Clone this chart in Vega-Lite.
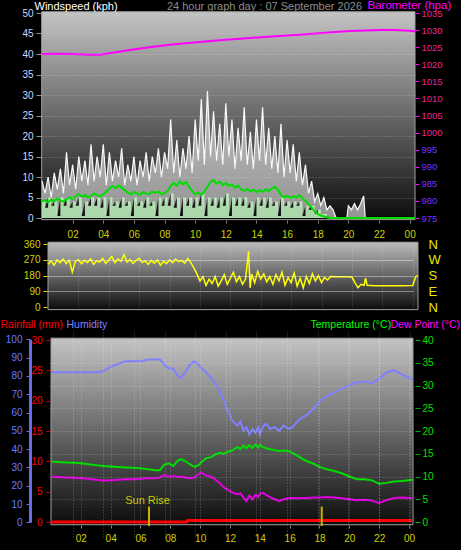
{
 "$schema": "https://vega.github.io/schema/vega-lite/v6.json",
 "width": 461, "height": 550, "autosize": "none", "padding": 0, "background": "#000000",
 "config": {"font": "Liberation Sans", "view": {"stroke": null},
  "axis": {"labelFont": "Liberation Sans", "titleFont": "Liberation Sans", "titleFontWeight": "normal", "labelFontSize": 10, "titleFontSize": 11, "grid": false}},
 "datasets": {
  "frame1": [{"x0": -0.02, "x1": 24.35, "y0": -0.4, "y1": 50.3}],
  "frame2": [{"x0": 0, "x1": 24.35, "y0": -15, "y1": 372}],
  "frame3": [{"x0": 0, "x1": 24.27, "y0": -0.6, "y1": 40.4}],
  "wind": [
   {"t":0.0,"g":9,"a":4,"m":4.0},{"t":0.2,"g":6,"a":2.5,"m":4.4},{"t":0.4,"g":10,"a":5,"m":3.8},{"t":0.6,"g":5,"a":3,"m":4.5},
   {"t":0.8,"g":11,"a":4,"m":4.1},{"t":1.0,"g":7,"a":0.5,"m":4.8},{"t":1.2,"g":12,"a":5,"m":4.3},{"t":1.4,"g":6,"a":3,"m":4.0},
   {"t":1.6,"g":16,"a":5,"m":4.6},{"t":1.8,"g":8,"a":2.5,"m":5.0},{"t":2.0,"g":13,"a":4,"m":4.6},{"t":2.2,"g":7,"a":3,"m":5.3},
   {"t":2.4,"g":15,"a":5,"m":5.8},{"t":2.6,"g":9,"a":0.5,"m":5.2},{"t":2.8,"g":14,"a":4,"m":5.6},{"t":3.0,"g":8,"a":3,"m":5.0},
   {"t":3.2,"g":18,"a":5,"m":5.4},{"t":3.4,"g":9,"a":3,"m":6.0},{"t":3.6,"g":15,"a":5,"m":5.6},{"t":3.8,"g":10,"a":2.5,"m":5.2},
   {"t":4.0,"g":18,"a":5,"m":5.8},{"t":4.2,"g":8,"a":0.5,"m":6.4},{"t":4.4,"g":16,"a":5,"m":7.2},{"t":4.6,"g":9,"a":3,"m":7.8},
   {"t":4.8,"g":14,"a":4,"m":7.3},{"t":5.0,"g":10,"a":2.5,"m":7.9},{"t":5.2,"g":17,"a":5,"m":7.4},{"t":5.4,"g":8,"a":3,"m":6.8},
   {"t":5.6,"g":13,"a":4,"m":6.2},{"t":5.8,"g":9,"a":0.5,"m":5.8},{"t":6.0,"g":15,"a":5,"m":6.4},{"t":6.2,"g":8,"a":3,"m":6.0},
   {"t":6.4,"g":14,"a":4,"m":5.6},{"t":6.6,"g":10,"a":2.5,"m":6.3},{"t":6.8,"g":16,"a":5,"m":6.0},{"t":7.0,"g":9,"a":3,"m":5.8},
   {"t":7.2,"g":15,"a":4,"m":6.5},{"t":7.4,"g":11,"a":0.5,"m":6.1},{"t":7.6,"g":17,"a":5,"m":6.4},{"t":7.8,"g":10,"a":3,"m":5.8},
   {"t":8.0,"g":16,"a":5,"m":6.0},{"t":8.2,"g":12,"a":3,"m":6.6},{"t":8.4,"g":24,"a":6,"m":7.8},{"t":8.6,"g":11,"a":2.5,"m":8.6},
   {"t":8.8,"g":19,"a":5,"m":7.9},{"t":9.0,"g":10,"a":0.5,"m":9.0},{"t":9.2,"g":17,"a":5,"m":8.2},{"t":9.4,"g":12,"a":3,"m":8.8},
   {"t":9.6,"g":20,"a":5,"m":7.6},{"t":9.8,"g":11,"a":2.5,"m":6.6},{"t":10.0,"g":24,"a":5,"m":5.8},{"t":10.2,"g":14,"a":3,"m":6.2},
   {"t":10.4,"g":29,"a":6,"m":5.6},{"t":10.6,"g":13,"a":0.5,"m":6.4},{"t":10.8,"g":31,"a":5,"m":7.6},{"t":11.0,"g":15,"a":3,"m":8.8},
   {"t":11.2,"g":26,"a":5,"m":9.3},{"t":11.4,"g":14,"a":2.5,"m":8.4},{"t":11.6,"g":23,"a":5,"m":8.9},{"t":11.8,"g":13,"a":3,"m":8.0},
   {"t":12.0,"g":28,"a":6,"m":8.6},{"t":12.2,"g":15,"a":0.5,"m":7.8},{"t":12.4,"g":24,"a":5,"m":8.2},{"t":12.6,"g":12,"a":3,"m":7.4},
   {"t":12.8,"g":22,"a":5,"m":7.9},{"t":13.0,"g":14,"a":3,"m":7.0},{"t":13.2,"g":27,"a":5,"m":6.6},{"t":13.4,"g":13,"a":2.5,"m":7.1},
   {"t":13.6,"g":21,"a":4,"m":6.5},{"t":13.8,"g":12,"a":0.5,"m":6.9},{"t":14.0,"g":24,"a":5,"m":6.3},{"t":14.2,"g":14,"a":3,"m":6.8},
   {"t":14.4,"g":27,"a":5,"m":6.4},{"t":14.6,"g":13,"a":2.5,"m":7.0},{"t":14.8,"g":22,"a":5,"m":6.6},{"t":15.0,"g":12,"a":3,"m":7.2},
   {"t":15.2,"g":20,"a":4,"m":7.6},{"t":15.4,"g":11,"a":0.5,"m":6.9},{"t":15.6,"g":23,"a":5,"m":5.6},{"t":15.8,"g":10,"a":3,"m":5.0},
   {"t":16.0,"g":19,"a":4,"m":5.4},{"t":16.2,"g":11,"a":2.5,"m":4.9},{"t":16.4,"g":18,"a":4,"m":5.3},{"t":16.6,"g":9,"a":3,"m":5.0},
   {"t":16.8,"g":16,"a":4,"m":5.6},{"t":17.0,"g":8,"a":0.5,"m":4.8},{"t":17.2,"g":13,"a":3,"m":4.2},{"t":17.4,"g":6,"a":2,"m":3.4},
   {"t":17.6,"g":9,"a":3,"m":2.6},{"t":17.8,"g":4,"a":1,"m":1.6},{"t":18.0,"g":6,"a":2,"m":1.0},{"t":18.2,"g":3,"a":1,"m":0.6},
   {"t":18.4,"g":5,"a":1,"m":0.4},{"t":18.6,"g":2,"a":0,"m":0.2},{"t":18.8,"g":3,"a":0,"m":0},{"t":19.0,"g":2,"a":0,"m":0},
   {"t":19.2,"g":0,"a":0,"m":0},{"t":19.9,"g":0,"a":0,"m":0},{"t":20.0,"g":3,"a":0,"m":0},{"t":20.2,"g":2,"a":0,"m":0},
   {"t":20.4,"g":3.5,"a":0,"m":0},{"t":20.6,"g":2,"a":0,"m":0},{"t":20.8,"g":3.5,"a":0,"m":0},{"t":21.0,"g":5.4,"a":0,"m":0},
   {"t":21.1,"g":0,"a":0,"m":0},{"t":24.35,"g":0,"a":0,"m":0}
  ],
  "baro": [
   {"t":0,"p":1023.0},{"t":1,"p":1023.1},{"t":2,"p":1023.0},{"t":3,"p":1022.8},{"t":3.8,"p":1022.8},{"t":4.5,"p":1023.3},
   {"t":5.5,"p":1024.0},{"t":7,"p":1025.0},{"t":8.5,"p":1025.8},{"t":10.3,"p":1026.5},{"t":12,"p":1027.2},{"t":13.6,"p":1027.7},
   {"t":15,"p":1028.1},{"t":16.8,"p":1028.6},{"t":18.5,"p":1029.2},{"t":20.1,"p":1029.7},{"t":22.1,"p":1030.0},{"t":23,"p":1030.0},
   {"t":24,"p":1029.8},{"t":24.35,"p":1029.6}
  ],
  "dir": [
   {"t":0.0,"d":245},{"t":0.2,"d":265},{"t":0.4,"d":240},{"t":0.6,"d":270},{"t":0.8,"d":255},{"t":1.0,"d":275},{"t":1.2,"d":250},
   {"t":1.4,"d":268},{"t":1.6,"d":200},{"t":1.8,"d":262},{"t":2.0,"d":272},{"t":2.2,"d":248},{"t":2.4,"d":268},{"t":2.6,"d":255},
   {"t":2.8,"d":276},{"t":3.0,"d":245},{"t":3.2,"d":265},{"t":3.4,"d":258},{"t":3.6,"d":280},{"t":3.8,"d":250},{"t":4.0,"d":270},
   {"t":4.2,"d":290},{"t":4.4,"d":255},{"t":4.6,"d":275},{"t":4.8,"d":262},{"t":5.0,"d":300},{"t":5.2,"d":258},{"t":5.4,"d":272},
   {"t":5.6,"d":250},{"t":5.8,"d":268},{"t":6.0,"d":280},{"t":6.2,"d":255},{"t":6.4,"d":265},{"t":6.6,"d":245},{"t":6.8,"d":268},
   {"t":7.0,"d":252},{"t":7.2,"d":270},{"t":7.4,"d":240},{"t":7.6,"d":262},{"t":7.8,"d":250},{"t":8.0,"d":270},{"t":8.2,"d":255},
   {"t":8.4,"d":275},{"t":8.6,"d":260},{"t":8.8,"d":268},{"t":9.0,"d":252},{"t":9.2,"d":278},{"t":9.4,"d":255},{"t":9.6,"d":225},
   {"t":9.8,"d":190},{"t":10.0,"d":150},{"t":10.2,"d":175},{"t":10.4,"d":125},{"t":10.6,"d":160},{"t":10.8,"d":135},{"t":11.0,"d":175},
   {"t":11.2,"d":120},{"t":11.4,"d":150},{"t":11.6,"d":185},{"t":11.8,"d":130},{"t":12.0,"d":165},{"t":12.2,"d":200},{"t":12.4,"d":145},
   {"t":12.6,"d":175},{"t":12.8,"d":130},{"t":13.0,"d":160},{"t":13.2,"d":320},{"t":13.3,"d":110},{"t":13.4,"d":190},{"t":13.6,"d":140},
   {"t":13.8,"d":205},{"t":14.0,"d":160},{"t":14.2,"d":190},{"t":14.4,"d":145},{"t":14.6,"d":175},{"t":14.8,"d":130},{"t":15.0,"d":185},
   {"t":15.2,"d":150},{"t":15.4,"d":200},{"t":15.6,"d":125},{"t":15.8,"d":170},{"t":16.0,"d":140},{"t":16.2,"d":195},{"t":16.4,"d":120},
   {"t":16.6,"d":165},{"t":16.8,"d":110},{"t":17.0,"d":175},{"t":17.2,"d":135},{"t":17.4,"d":190},{"t":17.6,"d":150},{"t":17.8,"d":180},
   {"t":18.0,"d":140},{"t":18.2,"d":170},{"t":18.4,"d":155},{"t":18.6,"d":175},{"t":19.0,"d":174},{"t":19.6,"d":173},{"t":20.0,"d":172},
   {"t":20.2,"d":140},{"t":20.4,"d":110},{"t":20.6,"d":130},{"t":20.8,"d":125},{"t":20.9,"d":165},{"t":21.0,"d":125},{"t":21.5,"d":122},
   {"t":22.0,"d":122},{"t":23.0,"d":122},{"t":24.0,"d":123},{"t":24.2,"d":175},{"t":24.35,"d":180}
  ],
  "thd": [
   {"t":0.0,"h":82,"temp":13.3,"dew":10.0},{"t":0.5,"h":82,"temp":13.2,"dew":9.9},{"t":1.0,"h":82,"temp":13.1,"dew":9.8},
   {"t":1.5,"h":82,"temp":13.0,"dew":9.7},{"t":2.0,"h":82,"temp":12.9,"dew":9.6},{"t":2.5,"h":82,"temp":12.7,"dew":9.5},
   {"t":3.0,"h":82,"temp":12.5,"dew":9.3},{"t":3.5,"h":82.5,"temp":12.3,"dew":9.1},{"t":4.0,"h":85,"temp":12.2,"dew":9.2},
   {"t":4.5,"h":86.5,"temp":12.1,"dew":9.3},{"t":5.0,"h":88,"temp":12.0,"dew":9.4},{"t":5.5,"h":88,"temp":11.9,"dew":9.4},
   {"t":6.0,"h":88,"temp":11.8,"dew":9.5},{"t":6.5,"h":89,"temp":11.6,"dew":9.6},{"t":7.0,"h":89,"temp":11.4,"dew":9.6},
   {"t":7.3,"h":89,"temp":11.4,"dew":9.8},{"t":7.6,"h":86,"temp":12.6,"dew":10.3},{"t":7.9,"h":84,"temp":12.9,"dew":10.0},
   {"t":8.2,"h":84,"temp":12.3,"dew":10.1},{"t":8.5,"h":80,"temp":13.5,"dew":9.9},{"t":8.7,"h":79,"temp":13.8,"dew":10.0},
   {"t":9.0,"h":82,"temp":13.4,"dew":9.8},{"t":9.3,"h":86,"temp":12.7,"dew":9.6},{"t":9.6,"h":88,"temp":12.1,"dew":9.7},
   {"t":9.9,"h":86,"temp":12.5,"dew":10.6},{"t":10.1,"h":84,"temp":13.2,"dew":10.8},{"t":10.4,"h":82,"temp":14.0,"dew":10.2},
   {"t":10.7,"h":79,"temp":14.2,"dew":10.0},{"t":11.0,"h":76,"temp":14.8,"dew":9.4},{"t":11.3,"h":72,"temp":15.2,"dew":8.6},
   {"t":11.6,"h":66,"temp":15.0,"dew":7.6},{"t":11.9,"h":60,"temp":15.5,"dew":7.0},{"t":12.2,"h":55,"temp":15.8,"dew":6.4},
   {"t":12.5,"h":53,"temp":16.5,"dew":6.1},{"t":12.7,"h":55,"temp":16.0,"dew":6.3},{"t":12.9,"h":50,"temp":16.8,"dew":5.4},
   {"t":13.1,"h":52,"temp":16.2,"dew":4.6},{"t":13.3,"h":48,"temp":16.9,"dew":5.8},{"t":13.5,"h":51,"temp":16.3,"dew":5.0},
   {"t":13.7,"h":49,"temp":17.0,"dew":6.0},{"t":13.9,"h":52,"temp":16.4,"dew":5.5},{"t":14.0,"h":48,"temp":17.0,"dew":6.2},
   {"t":14.2,"h":52,"temp":16.5,"dew":6.4},{"t":14.4,"h":54,"temp":16.2,"dew":6.0},{"t":14.7,"h":51,"temp":16.0,"dew":5.4},
   {"t":15.0,"h":52,"temp":15.8,"dew":5.0},{"t":15.3,"h":50,"temp":15.6,"dew":4.6},{"t":15.6,"h":53,"temp":15.7,"dew":5.0},
   {"t":15.9,"h":51,"temp":15.6,"dew":5.2},{"t":16.2,"h":52,"temp":15.2,"dew":5.3},{"t":16.5,"h":55,"temp":14.6,"dew":5.2},
   {"t":16.8,"h":57,"temp":14.0,"dew":5.3},{"t":17.2,"h":59,"temp":13.3,"dew":5.3},{"t":17.6,"h":62,"temp":12.8,"dew":5.4},
   {"t":18.0,"h":66,"temp":12.1,"dew":5.4},{"t":18.5,"h":69,"temp":11.6,"dew":5.5},{"t":19.0,"h":71,"temp":11.2,"dew":5.4},
   {"t":19.5,"h":73,"temp":10.7,"dew":5.2},{"t":20.0,"h":75,"temp":10.0,"dew":5.0},{"t":20.5,"h":76.5,"temp":9.4,"dew":4.8},
   {"t":21.0,"h":77,"temp":9.4,"dew":4.9},{"t":21.5,"h":76,"temp":9.2,"dew":4.7},{"t":22.0,"h":78.5,"temp":8.4,"dew":4.2},
   {"t":22.5,"h":82,"temp":8.6,"dew":4.8},{"t":23.0,"h":83,"temp":8.9,"dew":5.3},{"t":23.5,"h":81,"temp":9.0,"dew":5.4},
   {"t":24.0,"h":79,"temp":9.2,"dew":5.3},{"t":24.25,"h":78,"temp":9.3,"dew":5.2}
  ],
  "rain": [{"t":0,"r":0},{"t":9.1,"r":0},{"t":9.15,"r":0.25},{"t":24.2,"r":0.25}],
  "sun": [{"t":6.57,"lo":-0.9,"hi":3.4,"label":"Sun Rise"},{"t":18.15,"lo":-0.9,"hi":3.4,"label":""}]
 },
 "layer": [
  {"data": {"name": "frame1"},
   "mark": {"type": "rect", "stroke": "#a0a0a0", "strokeWidth": 1,
    "fill": {"gradient": "linear", "x1": 0, "y1": 0, "x2": 0, "y2": 1, "stops": [{"offset": 0, "color": "#c4c4c4"}, {"offset": 1, "color": "#0c0c0c"}]}},
   "encoding": {
    "x": {"field": "x0", "type": "quantitative", "scale": {"domain": [0, 24.35], "range": [42, 415], "nice": false, "zero": false},
     "axis": {"grid": true, "gridColor": "#ffffff", "gridOpacity": 0.3, "gridDash": [1, 2], "domain": false, "ticks": false, "labels": false, "title": null, "values": [2,4,6,8,10,12,14,16,18,20,22,24], "zindex": 1}},
    "x2": {"field": "x1"},
    "y": {"field": "y0", "type": "quantitative", "scale": {"domain": [0, 50], "range": [218, 13], "nice": false, "zero": false},
     "axis": {"grid": true, "gridColor": "#ffffff", "gridOpacity": 0.3, "gridDash": [1, 2], "domain": false, "ticks": false, "labels": false, "title": null, "values": [5,10,15,20,25,30,35,40,45], "zindex": 1}},
    "y2": {"field": "y1"}}},
  {"data": {"name": "wind"},
   "mark": {"type": "area", "color": "#eeeeee", "opacity": 0.6},
   "encoding": {
    "x": {"field": "t", "type": "quantitative", "scale": {"domain": [0, 24.35], "range": [42, 415], "nice": false, "zero": false}, "axis": null},
    "y": {"field": "g", "type": "quantitative", "scale": {"domain": [0, 50], "range": [218, 13], "nice": false, "zero": false}, "axis": null},
    "y2": {"field": "a"}}},
  {"data": {"name": "wind"},
   "mark": {"type": "area", "interpolate": "step-after", "color": "#bdeebd", "opacity": 0.9},
   "encoding": {
    "x": {"field": "t", "type": "quantitative", "scale": {"domain": [0, 24.35], "range": [42, 415], "nice": false, "zero": false}, "axis": null},
    "y": {"field": "a", "type": "quantitative", "scale": {"domain": [0, 50], "range": [218, 13], "nice": false, "zero": false}, "axis": null}}},
  {"data": {"name": "wind"},
   "mark": {"type": "line", "color": "#f8f8f8", "strokeWidth": 1.2},
   "encoding": {
    "x": {"field": "t", "type": "quantitative", "scale": {"domain": [0, 24.35], "range": [42, 415], "nice": false, "zero": false},
     "axis": {"orient": "bottom", "offset": -330, "values": [2,4,6,8,10,12,14,16,18,20,22,24],
      "labelExpr": "datum.value == 24 ? '00' : (datum.value < 10 ? '0' + datum.value : '' + datum.value)",
      "domain": false, "tickColor": "#808080", "tickSize": 3, "labelColor": "#d0d000", "labelPadding": 6, "labelFlush": false, "labelOverlap": false,
      "title": "24 hour graph day : 07 September 2026", "titleColor": "#8c8c8c", "titleFontSize": 11, "titleX": 264, "titleY": -214, "titleAlign": "center", "titleBaseline": "middle", "titleAngle": 0, "zindex": 1}},
    "y": {"field": "g", "type": "quantitative", "scale": {"domain": [0, 50], "range": [218, 13], "nice": false, "zero": false},
     "axis": {"orient": "left", "offset": -41, "values": [0,5,10,15,20,25,30,35,40,45,50], "domain": false, "tickColor": "#909090", "tickSize": 5,
      "labelColor": "#c8d8ff", "labelPadding": 3, "title": "Windspeed (kph)", "titleColor": "#ffffff", "titleFontSize": 11, "titleAngle": 0,
      "titleAlign": "left", "titleBaseline": "middle", "titleX": -7, "titleY": 6, "zindex": 1}}}},
  {"data": {"name": "wind"},
   "mark": {"type": "line", "color": "#00dd00", "strokeWidth": 2},
   "encoding": {
    "x": {"field": "t", "type": "quantitative", "scale": {"domain": [0, 24.35], "range": [42, 415], "nice": false, "zero": false}, "axis": null},
    "y": {"field": "m", "type": "quantitative", "scale": {"domain": [0, 50], "range": [218, 13], "nice": false, "zero": false}, "axis": null}}},
  {"data": {"name": "baro"},
   "mark": {"type": "line", "color": "#ff00ff", "strokeWidth": 2},
   "encoding": {
    "x": {"field": "t", "type": "quantitative", "scale": {"domain": [0, 24.35], "range": [42, 415], "nice": false, "zero": false}, "axis": null},
    "y": {"field": "p", "type": "quantitative", "scale": {"domain": [975, 1035], "range": [218, 13], "nice": false, "zero": false},
     "axis": {"orient": "right", "offset": -46, "values": [975,980,985,990,995,1000,1005,1010,1015,1020,1025,1030,1035], "format": "d",
      "domain": true, "domainColor": "#c000c0", "domainDash": [2, 2], "tickColor": "#ff00ff", "tickSize": 4,
      "labelColor": {"expr": "datum.value >= 1000 ? '#f0208a' : '#7a30ff'"}, "labelPadding": 2, "labelFontSize": 9.5,
      "title": "Barometer (hpa)", "titleColor": "#ff00ff", "titleFontSize": 11.5, "titleAngle": 0, "titleAlign": "left", "titleBaseline": "middle",
      "titleX": -48, "titleY": 5, "zindex": 1}}}},
  {"data": {"name": "frame2"},
   "mark": {"type": "rect", "stroke": "#a0a0a0", "strokeWidth": 1,
    "fill": {"gradient": "linear", "x1": 0, "y1": 0, "x2": 0, "y2": 1, "stops": [{"offset": 0, "color": "#bcbcbc"}, {"offset": 1, "color": "#0c0c0c"}]}},
   "encoding": {
    "x": {"field": "x0", "type": "quantitative", "scale": {"domain": [0, 24.35], "range": [48, 418], "nice": false, "zero": false},
     "axis": {"grid": true, "gridColor": "#ffffff", "gridOpacity": 0.25, "gridDash": [1, 2], "domain": false, "ticks": false, "labels": false, "title": null, "values": [2,4,6,8,10,12,14,16,18,20,22,24], "zindex": 1}},
    "x2": {"field": "x1"},
    "y": {"field": "y0", "type": "quantitative", "scale": {"domain": [0, 360], "range": [307, 244.3], "nice": false, "zero": false},
     "axis": {"grid": true, "gridColor": "#ffffff", "gridOpacity": 0.4, "domain": false, "ticks": false, "labels": false, "title": null, "values": [90, 180, 270], "zindex": 1}},
    "y2": {"field": "y1"}}},
  {"data": {"name": "dir"},
   "mark": {"type": "line", "color": "#ffff00", "strokeWidth": 1.5},
   "encoding": {
    "x": {"field": "t", "type": "quantitative", "scale": {"domain": [0, 24.35], "range": [48, 418], "nice": false, "zero": false}, "axis": null},
    "y": {"field": "d", "type": "quantitative", "scale": {"domain": [0, 360], "range": [307, 244.3], "nice": false, "zero": false},
     "axis": {"orient": "left", "offset": -47, "values": [0, 90, 180, 270, 360], "domain": false, "tickColor": "#d0d000", "tickSize": 4,
      "labelColor": "#d0d000", "labelPadding": 3, "title": null, "zindex": 1}}}},
  {"data": {"name": "frame2"},
   "mark": {"type": "rect", "opacity": 0},
   "encoding": {
    "x": {"field": "x0", "type": "quantitative", "scale": {"domain": [0, 24.35], "range": [48, 418], "nice": false, "zero": false}, "axis": null},
    "x2": {"field": "x1"},
    "y": {"field": "y0", "type": "quantitative", "scale": {"domain": [0, 360], "range": [307, 244.3], "nice": false, "zero": false},
     "axis": {"orient": "right", "offset": -43, "values": [0, 90, 180, 270, 360],
      "labelExpr": "datum.value == 90 ? 'E' : datum.value == 180 ? 'S' : datum.value == 270 ? 'W' : 'N'",
      "domain": false, "ticks": false, "labelColor": "#e8e800", "labelFontSize": 13, "labelPadding": 10, "labelAlign": "left", "labelOverlap": false, "title": null, "zindex": 1}},
    "y2": {"field": "y1"}}},
  {"data": {"name": "frame3"},
   "mark": {"type": "rect", "stroke": "#a0a0a0", "strokeWidth": 1,
    "fill": {"gradient": "linear", "x1": 0, "y1": 0, "x2": 0, "y2": 1, "stops": [{"offset": 0, "color": "#c4c4c4"}, {"offset": 1, "color": "#0c0c0c"}]}},
   "encoding": {
    "x": {"field": "x0", "type": "quantitative", "scale": {"domain": [0, 24.27], "range": [51, 413], "nice": false, "zero": false},
     "axis": {"grid": true, "gridColor": "#ffffff", "gridOpacity": 0.3, "gridDash": [1, 2], "domain": false, "ticks": false, "labels": false, "title": null, "values": [2,4,6,8,10,12,14,16,18,20,22,24], "zindex": 1}},
    "x2": {"field": "x1"},
    "y": {"field": "y0", "type": "quantitative", "scale": {"domain": [0, 40], "range": [522, 340], "nice": false, "zero": false},
     "axis": {"grid": true, "gridColor": "#ffffff", "gridOpacity": 0.3, "gridDash": [1, 2], "domain": false, "ticks": false, "labels": false, "title": null, "values": [5,10,15,20,25,30,35], "zindex": 1}},
    "y2": {"field": "y1"}}},
  {"data": {"name": "rain"},
   "mark": {"type": "line", "color": "#ff0000", "strokeWidth": 3},
   "encoding": {
    "x": {"field": "t", "type": "quantitative", "scale": {"domain": [0, 24.27], "range": [51, 413], "nice": false, "zero": false}, "axis": null},
    "y": {"field": "r", "type": "quantitative", "scale": {"domain": [0, 30], "range": [522, 340], "nice": false, "zero": false},
     "axis": {"orient": "left", "offset": -50, "values": [0,5,10,15,20,25,30], "domain": false, "tickColor": "#d00000", "tickSize": 4,
      "labelColor": "#ff0000", "labelPadding": 4, "title": "Rainfall (mm)", "titleColor": "#ff0000", "titleFontSize": 10.5, "titleAngle": 0,
      "titleAlign": "left", "titleBaseline": "middle", "titleX": -50, "titleY": 324, "zindex": 1}}}},
  {"data": {"name": "thd"},
   "mark": {"type": "line", "color": "#8080ff", "strokeWidth": 2},
   "encoding": {
    "x": {"field": "t", "type": "quantitative", "scale": {"domain": [0, 24.27], "range": [51, 413], "nice": false, "zero": false}, "axis": null},
    "y": {"field": "h", "type": "quantitative", "scale": {"domain": [0, 100], "range": [522.3, 339.3], "nice": false, "zero": false},
     "axis": {"orient": "left", "offset": -30, "values": [0,10,20,30,40,50,60,70,80,90,100], "domain": true, "domainColor": "#6a6aea", "domainWidth": 3,
      "tickColor": "#6a6aea", "tickSize": 4, "labelColor": "#6a7aff", "labelPadding": 4,
      "title": "Humidity", "titleColor": "#8080ff", "titleFontSize": 10.5, "titleAngle": 0, "titleAlign": "left", "titleBaseline": "middle",
      "titleX": 36, "titleY": 324, "zindex": 1}}}},
  {"data": {"name": "thd"},
   "mark": {"type": "line", "color": "#00dd00", "strokeWidth": 2},
   "encoding": {
    "x": {"field": "t", "type": "quantitative", "scale": {"domain": [0, 24.27], "range": [51, 413], "nice": false, "zero": false},
     "axis": {"orient": "bottom", "offset": -25, "values": [2,4,6,8,10,12,14,16,18,20,22,24],
      "labelExpr": "datum.value == 24 ? '00' : (datum.value < 10 ? '0' + datum.value : '' + datum.value)",
      "domain": false, "tickColor": "#808080", "tickSize": 3, "labelColor": "#d0d000", "labelPadding": 5, "labelFlush": false, "labelOverlap": false, "title": null, "zindex": 1}},
    "y": {"field": "temp", "type": "quantitative", "scale": {"domain": [0, 40], "range": [522, 340], "nice": false, "zero": false},
     "axis": {"orient": "right", "offset": -46, "values": [0,5,10,15,20,25,30,35,40], "domain": false, "tickColor": "#00b000", "tickSize": 5,
      "labelColor": "#00e000", "labelPadding": 2,
      "title": "Temperature (°C)", "titleColor": "#00ff00", "titleFontSize": 10.5, "titleAngle": 0, "titleAlign": "left", "titleBaseline": "middle",
      "titleX": -105, "titleY": 324, "zindex": 1}}}},
  {"data": {"name": "thd"},
   "mark": {"type": "line", "color": "#e000e0", "strokeWidth": 2},
   "encoding": {
    "x": {"field": "t", "type": "quantitative", "scale": {"domain": [0, 24.27], "range": [51, 413], "nice": false, "zero": false}, "axis": null},
    "y": {"field": "dew", "type": "quantitative", "scale": {"domain": [0, 40], "range": [522, 340], "nice": false, "zero": false},
     "axis": {"orient": "right", "offset": -46, "domain": false, "ticks": false, "labels": false,
      "title": "Dew Point (°C)", "titleColor": "#ff00ff", "titleFontSize": 10.5, "titleAngle": 0, "titleAlign": "left", "titleBaseline": "middle",
      "titleX": -25, "titleY": 324, "zindex": 1}}}},
  {"data": {"name": "sun"},
   "mark": {"type": "rule", "color": "#c8b400", "strokeWidth": 2},
   "encoding": {
    "x": {"field": "t", "type": "quantitative", "scale": {"domain": [0, 24.27], "range": [51, 413], "nice": false, "zero": false}, "axis": null},
    "y": {"field": "lo", "type": "quantitative", "scale": {"domain": [0, 40], "range": [522, 340], "nice": false, "zero": false}, "axis": null},
    "y2": {"field": "hi"}}},
  {"data": {"name": "sun"},
   "mark": {"type": "text", "color": "#c8c800", "fontSize": 11, "baseline": "bottom", "align": "center", "dy": -1, "dx": -1.5},
   "encoding": {
    "x": {"field": "t", "type": "quantitative", "scale": {"domain": [0, 24.27], "range": [51, 413], "nice": false, "zero": false}, "axis": null},
    "y": {"field": "hi", "type": "quantitative", "scale": {"domain": [0, 40], "range": [522, 340], "nice": false, "zero": false}, "axis": null},
    "text": {"field": "label"}}}
 ],
 "resolve": {"scale": {"x": "independent", "y": "independent"}, "axis": {"x": "independent", "y": "independent"}}
}
